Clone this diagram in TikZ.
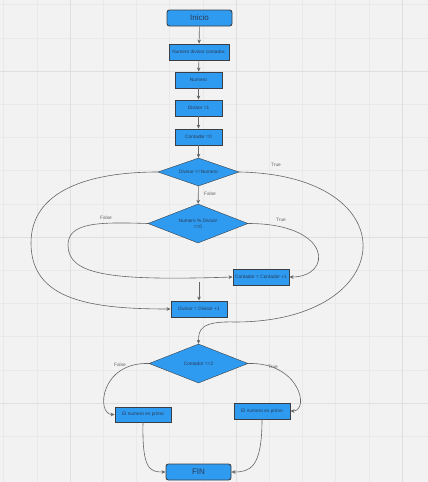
\documentclass[tikz,border=0pt]{standalone}
\usepackage{fontspec}
\setmainfont{Liberation Sans}
\usetikzlibrary{arrows.meta,shapes.geometric}
\definecolor{boxblue}{HTML}{2F9BF0}
\definecolor{boxedge}{HTML}{3A3F45}
\definecolor{boxtext}{HTML}{2A3A55}
\definecolor{linegray}{HTML}{666666}
\definecolor{paper}{HTML}{F2F2F2}
\definecolor{gridminor}{HTML}{E9E9E9}
\definecolor{gridmajor}{HTML}{DFDFDF}
\tikzset{
  box/.style={draw=boxedge, line width=0.9pt, fill=boxblue, text=boxtext,
    font=\fontsize{4.8}{5.5}\selectfont, inner sep=0pt, minimum height=16pt},
  terminal/.style={box, rounded corners=2.5pt, minimum width=65pt,
    font=\fontsize{8}{9}\selectfont},
  decision/.style={diamond, shape aspect=2.5, draw=boxedge, line width=0.4pt, fill=boxblue,
    text=boxtext, inner sep=0pt, align=center, font=\fontsize{4.8}{6}\selectfont},
  flow/.style={draw=linegray, line width=0.6pt, ->},
  tag/.style={text=linegray, font=\fontsize{4.8}{5.5}\selectfont}
}
\begin{document}
\begin{tikzpicture}[x=1pt, y=-1pt, >={Stealth[length=4pt, width=3.6pt]}]
  \useasboundingbox[fill=paper] (0, 0) rectangle (428, 482);
  \foreach \k in {-2,...,11} {
    \draw[gridminor, line width=0.5pt] (70 + 33.2 * \k, 0) -- (70 + 33.2 * \k, 482);
    \draw[gridminor, line width=0.5pt] (0, 71 + 33.2 * \k) -- (428, 71 + 33.2 * \k);
  }
  \foreach \k in {0, 1, 2} {
    \draw[gridmajor, line width=1pt] (70 + 166 * \k, 0) -- (70 + 166 * \k, 482);
    \draw[gridmajor, line width=1pt] (0, 71 + 166 * \k) -- (428, 71 + 166 * \k);
  }
  \draw (199.5, 18) node[terminal] (start) {Inicio};
  \draw (199, 52) node[box, minimum width=60pt] (decl) {Numero divisor contador.};
  \draw (198.5, 80) node[box, minimum width=47pt] (num) {Numero};
  \draw (198.5, 108) node[box, minimum width=47pt] (div1) {Divisor =1};
  \draw (198.5, 137) node[box, minimum width=47pt] (cont0) {Contador =0};
  \draw (198.5, 172) node[decision, minimum width=81pt, minimum height=28pt] (d1) {Divisor \textless=Numero};
  \draw (198, 223.5) node[decision, minimum width=100pt, minimum height=39pt] (d2) {Numero \% Divisor\\==0};
  \draw (261, 277) node[box, minimum width=56pt] (inc) {Contador = Contador +1};
  \draw (199, 309) node[box, minimum width=56pt] (nextdiv) {Divisor = Divisor +1};
  \draw (198.5, 363.5) node[decision, minimum width=99pt, minimum height=39pt] (d3) {Contador ==2};
  \draw (143, 414.5) node[box, minimum width=56pt, minimum height=15pt] (notprime) {El numero es primo};
  \draw (262, 411) node[box, minimum width=56pt] (prime) {El numero es primo};
  \draw (198.5, 472) node[terminal] (fin) {FIN};
  \coordinate (back) at (199, 282);
  \draw[flow] (start) -- (decl);
  \draw[flow] (decl) -- (num);
  \draw[flow] (num) -- (div1);
  \draw[flow] (div1) -- (cont0);
  \draw[flow] (cont0) -- (d1);
  \draw[flow] (d1) -- (d2);
  \draw[flow] (back) -- (nextdiv);
  \draw[flow] (d2.east) .. controls (333, 223.5) and (333, 277) .. (inc.east);
  \draw[flow] (d2.west) .. controls (100, 222) and (68, 222) .. (68, 245) .. controls (68, 275) and (110, 281) .. (inc.west);
  \draw[flow] (d1.west) .. controls (90, 172) and (31, 190) .. (31, 243) .. controls (31, 300) and (90, 309) .. (nextdiv.west);
  \draw[flow] (d1.east) .. controls (410, 175) and (400, 322) .. (235, 322) .. controls (200, 321) and (198.5, 330) .. (d3.north);
  \draw[flow] (d3.west) .. controls (100, 362) and (96, 414.5) .. (notprime.west);
  \draw[flow] (d3.east) .. controls (300, 362) and (310, 411) .. (prime.east);
  \draw[flow] (notprime.south) .. controls (142, 470) and (150, 472) .. (fin.west);
  \draw[flow] (prime.south) .. controls (262, 468) and (250, 472) .. (fin.east);
  \draw (210, 194) node[tag] (t1) {False};
  \draw (276, 165) node[tag] (t2) {True};
  \draw (106, 218) node[tag] (t3) {False};
  \draw (281, 220) node[tag] (t4) {True};
  \draw (120, 365) node[tag] (t5) {False};
  \draw (273, 367) node[tag] (t6) {True};
\end{tikzpicture}
\end{document}
